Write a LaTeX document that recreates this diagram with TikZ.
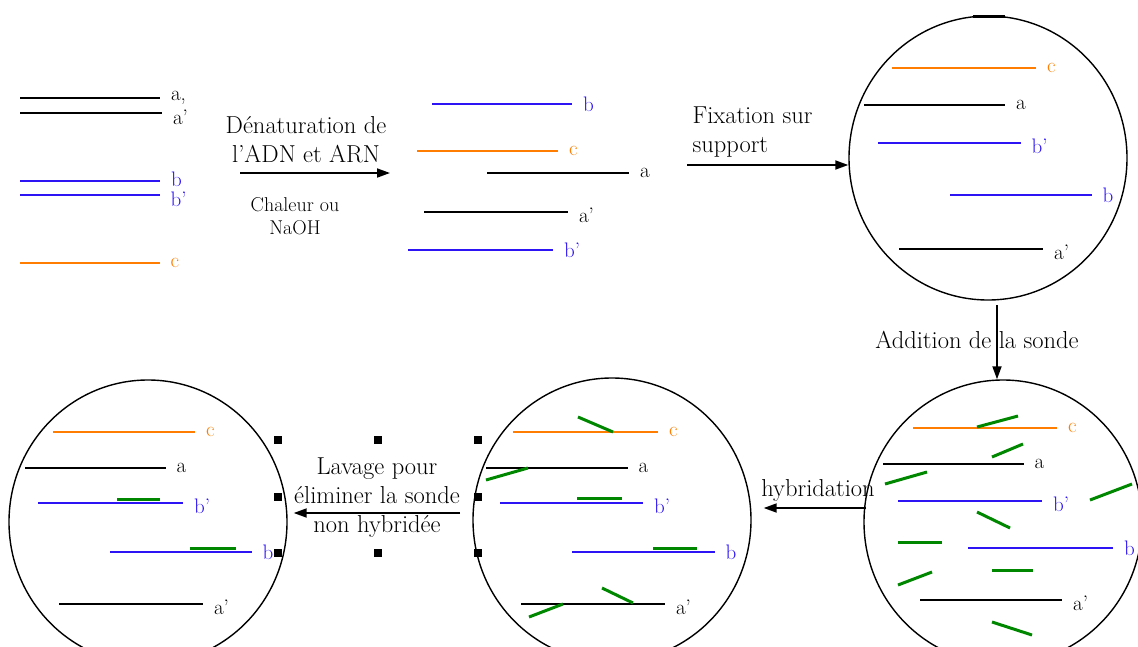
\documentclass[tikz,border=0pt]{standalone}
\usepackage{tikz}
\usetikzlibrary{arrows.meta, shapes.geometric}
\definecolor{dnaorange}{RGB}{255,125,0}
\definecolor{dnablue}{RGB}{45,20,245}
\definecolor{probegreen}{RGB}{0,135,0}

\begin{document}
\begin{tikzpicture}[
    x=1pt, y=-1pt,
    every node/.style={font=\fontsize{24.5}{29}\selectfont},
    dish/.style={
        ellipse, draw, line width=1.4pt,
        minimum width=278pt, minimum height=284pt, inner sep=0pt
    },
    thickstrand/.style={line width=2.2pt},
    thinstrand/.style={line width=1.3pt},
    probe/.style={draw=probegreen, line width=3pt},
    lbl/.style={right, inner sep=0pt, xshift=10pt, font=\fontsize{21}{21}\selectfont},
    handle/.style={fill=black},
    arrow/.style={-{Triangle[length=13pt, width=9pt]}, line width=1.8pt},
]
\useasboundingbox (0,0) rectangle (1138,646);
\clip (0,0) rectangle (1138,646);

% Supports
\node[dish] (disc1) at (988,158) {};
\node[dish] (disc2) at (1003,522) {};
\node[dish] (disc3) at (612,520) {};
\node[dish] (disc4) at (148,522) {};
\draw[line width=3pt] (973,16) -- (1005,16);

% Double strands
\draw[thickstrand] (20,98) -- (160,98) node[lbl] (tl-a) {a,};
\draw[thickstrand] (20,113) -- (162,113) node[lbl, yshift=-4pt] (tl-a2) {a'};
\draw[thickstrand, dnablue] (20,181) -- (160,181) node[lbl, yshift=2pt] (tl-b) {b};
\draw[thinstrand, dnablue] (20,195) -- (160,195) node[lbl, yshift=-4pt] (tl-b2) {b'};
\draw[thinstrand, dnaorange] (20,263) -- (160,263) node[lbl] (tl-c) {c};

% Single strands
\draw[thickstrand, dnablue] (432,104) -- (572,104) node[lbl] (tm-b) {b};
\draw[thickstrand, dnaorange] (417,151) -- (558,151) node[lbl] (tm-c) {c};
\draw[thickstrand] (487,173) -- (629,173) node[lbl] (tm-a) {a};
\draw[thickstrand] (424,212) -- (568,212) node[lbl, yshift=-3pt] (tm-a2) {a'};
\draw[thickstrand, dnablue] (408,250) -- (553,250) node[lbl] (tm-b2) {b'};

% Fixed on support
\draw[thickstrand, dnaorange] (892,68) -- (1036,68) node[lbl] (d1-c) {c};
\draw[thickstrand] (864,105) -- (1005,105) node[lbl] (d1-a) {a};
\draw[thinstrand, dnablue] (878,143) -- (1021,143) node[lbl, yshift=-3pt] (d1-b2) {b'};
\draw[thinstrand, dnablue] (950,195) -- (1092,195) node[lbl] (d1-b) {b};
\draw[thickstrand] (899,249) -- (1043,249) node[lbl, yshift=-3pt] (d1-a2) {a'};

% Probe added
\draw[thickstrand, dnaorange] (913,428) -- (1057,428) node[lbl] (d2-c) {c};
\draw[thinstrand] (883,464) -- (1024,464) node[lbl] (d2-a) {a};
\draw[thickstrand, dnablue] (898,501) -- (1042,501) node[lbl, yshift=-3pt] (d2-b2) {b'};
\draw[thickstrand, dnablue] (968,548) -- (1113,548) node[lbl] (d2-b) {b};
\draw[thickstrand] (920,600) -- (1062,600) node[lbl, yshift=-3pt] (d2-a2) {a'};
\draw[probe] (977,427) -- (1018,416);
\draw[probe] (992,457) -- (1023,444);
\draw[probe] (885,484) -- (927,472);
\draw[probe] (1090,500) -- (1132,484);
\draw[probe] (977,512) -- (1010,528);
\draw[probe] (898,542) -- (942,542);
\draw[probe] (992,570) -- (1033,570);
\draw[probe] (898,585) -- (932,572);
\draw[probe] (992,622) -- (1032,635);

% Hybridised
\draw[thickstrand, dnaorange] (513,432) -- (658,432) node[lbl] (d3-c) {c};
\draw[thinstrand] (486,468) -- (628,468) node[lbl] (d3-a) {a};
\draw[thickstrand, dnablue] (500,503) -- (643,503) node[lbl, yshift=-3pt] (d3-b2) {b'};
\draw[thinstrand, dnablue] (572,552) -- (715,552) node[lbl] (d3-b) {b};
\draw[thickstrand] (521,604) -- (665,604) node[lbl, yshift=-3pt] (d3-a2) {a'};
\draw[probe] (578,417) -- (613,432);
\draw[probe] (486,480) -- (528,468);
\draw[probe] (577,498) -- (622,498);
\draw[probe] (653,548) -- (697,548);
\draw[probe] (602,588) -- (633,603);
\draw[probe] (529,617) -- (563,604);

% Washed
\draw[thickstrand, dnaorange] (53,432) -- (195,432) node[lbl] (d4-c) {c};
\draw[thinstrand] (25,468) -- (166,468) node[lbl] (d4-a) {a};
\draw[thickstrand, dnablue] (38,503) -- (183,503) node[lbl, yshift=-3pt] (d4-b2) {b'};
\draw[thinstrand, dnablue] (110,552) -- (252,552) node[lbl] (d4-b) {b};
\draw[thickstrand] (59,604) -- (203,604) node[lbl, yshift=-3pt] (d4-a2) {a'};
\draw[probe] (117,499) -- (160,499);
\draw[probe] (190,548) -- (236,548);

% Steps
\coordinate (den-start) at (240,173);
\coordinate (den-end) at (390,173);
\draw[arrow] (den-start) -- (den-end);
\node[align=center] (den-lbl) at (306,140) {Dénaturation de\\l'ADN et ARN};
\node[align=center, font=\fontsize{20}{23}\selectfont] (heat-lbl) at (295,216) {Chaleur ou\\NaOH};

\coordinate (fix-start) at (687,165);
\draw[arrow] (fix-start) -- (fix-start -| disc1.west);
\node[align=left, anchor=west] (fix-lbl) at (689,132) {Fixation sur\\support};

\coordinate (add-start) at (997,305);
\draw[arrow] (add-start) -- (add-start |- disc2.north);
\node (add-lbl) at (977,340) {Addition de la sonde};

\coordinate (hyb-start) at (866,508);
\draw[arrow, shorten >=12pt] (hyb-start) -- (hyb-start -| disc3.east);
\node (hyb-lbl) at (818,490) {hybridation};

\coordinate (lav-start) at (460,513);
\draw[arrow, shorten >=6pt] (lav-start) -- (lav-start -| disc4.east);
\node[align=center] (lav-lbl) at (377,498) {Lavage pour\\éliminer la sonde\\non hybridée};
\foreach \hx/\hy in {278/440, 378/440, 478/440, 278/497, 478/497, 278/553, 378/553, 478/553}
    \fill[handle] (\hx-4,\hy-4) rectangle ++(8,8);

\end{tikzpicture}
\end{document}
